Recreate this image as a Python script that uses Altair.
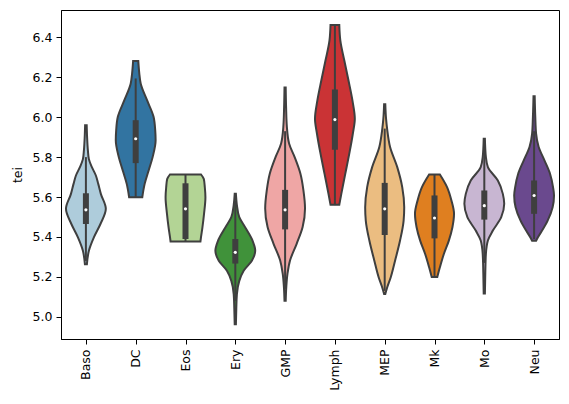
import colorsys
import altair as alt
import pandas as pd

categories = ["Baso", "DC", "Eos", "Ery", "GMP", "Lymph", "MEP", "Mk", "Mo", "Neu"]
base_colors = ["#a6cee3", "#1f78b4", "#b2df8a", "#33a02c", "#fb9a99",
               "#e31a1c", "#fdbf6f", "#ff7f00", "#cab2d6", "#6a3d9a"]

# violin outlines: tei levels (top to bottom) and relative half-widths
y_baso = [5.96, 5.90, 5.834, 5.79, 5.75, 5.708, 5.666, 5.616, 5.541, 5.465, 5.398, 5.331, 5.264]
w_baso = [0.04, 0.06, 0.10, 0.15, 0.30, 0.50, 0.62, 0.75, 1.00, 0.73, 0.40, 0.15, 0.05]
y_dc = [6.281, 6.22, 6.169, 6.085, 6.001, 5.934, 5.884, 5.80, 5.733, 5.666, 5.599]
w_dc = [0.13, 0.18, 0.25, 0.57, 0.90, 0.98, 1.00, 0.85, 0.65, 0.45, 0.33]
y_eos = [5.713, 5.69, 5.649, 5.599, 5.516, 5.448, 5.40, 5.378]
w_eos = [0.78, 0.92, 0.97, 1.00, 0.93, 0.85, 0.78, 0.75]
y_ery = [5.616, 5.56, 5.499, 5.448, 5.381, 5.331, 5.281, 5.231, 5.18, 5.114, 5.04, 4.963]
w_ery = [0.03, 0.08, 0.20, 0.50, 0.87, 1.00, 0.83, 0.42, 0.20, 0.08, 0.05, 0.03]
y_gmp = [6.149, 6.05, 5.95, 5.868, 5.80, 5.717, 5.634, 5.543, 5.45, 5.366, 5.283, 5.216, 5.15, 5.08]
w_gmp = [0.03, 0.05, 0.09, 0.20, 0.48, 0.77, 0.92, 1.00, 0.88, 0.58, 0.25, 0.12, 0.06, 0.03]
y_lymph = [6.462, 6.386, 6.285, 6.185, 6.084, 5.992, 5.917, 5.816, 5.716, 5.615, 5.561]
w_lymph = [0.22, 0.27, 0.47, 0.68, 0.88, 1.00, 0.90, 0.72, 0.52, 0.32, 0.22]
y_mep = [6.065, 5.99, 5.943, 5.851, 5.75, 5.65, 5.549, 5.482, 5.382, 5.281, 5.197, 5.146, 5.114]
w_mep = [0.03, 0.07, 0.12, 0.27, 0.63, 0.88, 0.98, 0.95, 0.77, 0.52, 0.30, 0.12, 0.03]
y_mk = [5.713, 5.65, 5.583, 5.516, 5.449, 5.382, 5.315, 5.248, 5.20]
w_mk = [0.27, 0.63, 0.85, 0.98, 0.90, 0.72, 0.47, 0.27, 0.14]
y_mo = [5.892, 5.80, 5.75, 5.683, 5.616, 5.566, 5.499, 5.432, 5.382, 5.315, 5.22, 5.117]
w_mo = [0.03, 0.08, 0.18, 0.68, 0.93, 1.00, 0.85, 0.43, 0.18, 0.08, 0.05, 0.03]
y_neu = [6.105, 6.0, 5.918, 5.851, 5.784, 5.717, 5.65, 5.608, 5.549, 5.482, 5.432, 5.40, 5.381]
w_neu = [0.03, 0.06, 0.10, 0.23, 0.52, 0.80, 0.95, 1.00, 0.93, 0.68, 0.40, 0.20, 0.10]

# inner box statistics
q1 = [5.465, 5.77, 5.39, 5.267, 5.438, 5.837, 5.41, 5.393, 5.487, 5.516]
median = [5.536, 5.892, 5.541, 5.323, 5.536, 5.988, 5.541, 5.495, 5.557, 5.608]
q3 = [5.619, 5.985, 5.669, 5.39, 5.636, 6.139, 5.671, 5.608, 5.633, 5.683]
whisker_lo = [5.28, 5.597, 5.38, 5.08, 5.14, 5.56, 5.13, 5.20, 5.27, 5.39]
whisker_hi = [5.80, 6.194, 5.713, 5.58, 5.93, 6.46, 5.943, 5.713, 5.85, 5.93]

profiles = [(y_baso, w_baso), (y_dc, w_dc), (y_eos, w_eos), (y_ery, w_ery), (y_gmp, w_gmp),
            (y_lymph, w_lymph), (y_mep, w_mep), (y_mk, w_mk), (y_mo, w_mo), (y_neu, w_neu)]


def desat(hexcol, prop=0.75):
    r, g, b = (int(hexcol[i:i + 2], 16) / 255 for i in (1, 3, 5))
    h, l, s = colorsys.rgb_to_hls(r, g, b)
    r, g, b = colorsys.hls_to_rgb(h, l, s * prop)
    return "#%02x%02x%02x" % (round(r * 255), round(g * 255), round(b * 255))


colors = [desat(c) for c in base_colors]
HALF = 0.4

rows = []
for i, (cat, (ys, ws)) in enumerate(zip(categories, profiles)):
    for y, w in zip(ys, ws):
        rows.append({"cat": cat, "y": y, "lo": i - HALF * w, "hi": i + HALF * w})
vdf = pd.DataFrame(rows)

bdf = pd.DataFrame({"cat": categories, "idx": list(range(len(categories))),
                    "q1": q1, "med": median, "q3": q3, "wlo": whisker_lo, "whi": whisker_hi})

label_expr = "[" + ",".join("'%s'" % c for c in categories) + "][datum.value]"

xscale = alt.Scale(domain=[-0.5, 9.5], nice=False, zero=False)
yscale = alt.Scale(domain=[4.889, 6.537], nice=False, zero=False)
xaxis = alt.Axis(values=list(range(10)), labelExpr=label_expr, labelAngle=270, labelAlign="right",
                 labelBaseline="middle", title=None, grid=False, labelFontSize=12.5,
                 labelColor="#000000", tickColor="#000000", domainColor="#000000", tickSize=5,
                 labelPadding=5, labelFont="DejaVu Sans")
yaxis = alt.Axis(values=[5.0, 5.2, 5.4, 5.6, 5.8, 6.0, 6.2, 6.4], format=".1f", title="tei",
                 grid=False, labelFontSize=12.5, labelColor="#000000", tickColor="#000000",
                 domainColor="#000000", tickSize=5, labelPadding=4, titleFontSize=12.5,
                 titleFontWeight="normal", titleColor="#000000", titlePadding=8,
                 labelFont="DejaVu Sans", titleFont="DejaVu Sans")

violins = alt.Chart(vdf).mark_area(
    orient="horizontal", interpolate="monotone", stroke="#3f3f3f", strokeWidth=2, opacity=1
).encode(
    y=alt.Y("y:Q", scale=yscale, axis=yaxis),
    x=alt.X("lo:Q", scale=xscale, axis=xaxis),
    x2="hi:Q",
    color=alt.Color("cat:N", scale=alt.Scale(domain=categories, range=colors), legend=None),
    detail="cat:N",
)

whisk = alt.Chart(bdf).mark_rule(color="#3f3f3f", strokeWidth=2).encode(
    x=alt.X("idx:Q", scale=xscale), y=alt.Y("wlo:Q", scale=yscale), y2="whi:Q")
box = alt.Chart(bdf).mark_rule(color="#3f3f3f", strokeWidth=6, strokeCap="butt").encode(
    x=alt.X("idx:Q", scale=xscale), y=alt.Y("q1:Q", scale=yscale), y2="q3:Q")
med = alt.Chart(bdf).mark_point(filled=True, color="white", size=10, opacity=1).encode(
    x=alt.X("idx:Q", scale=xscale), y=alt.Y("med:Q", scale=yscale))

chart = alt.layer(violins, whisk, box, med).properties(
    width=498, height=329,
    background="white",
    autosize=alt.AutoSizeParams(type="none"),
    padding={"left": 53, "top": 2, "right": 2, "bottom": 57},
).configure_view(stroke="#000000", strokeWidth=1)

chart.save("out.html", embed_options={"renderer": "svg", "actions": False})
